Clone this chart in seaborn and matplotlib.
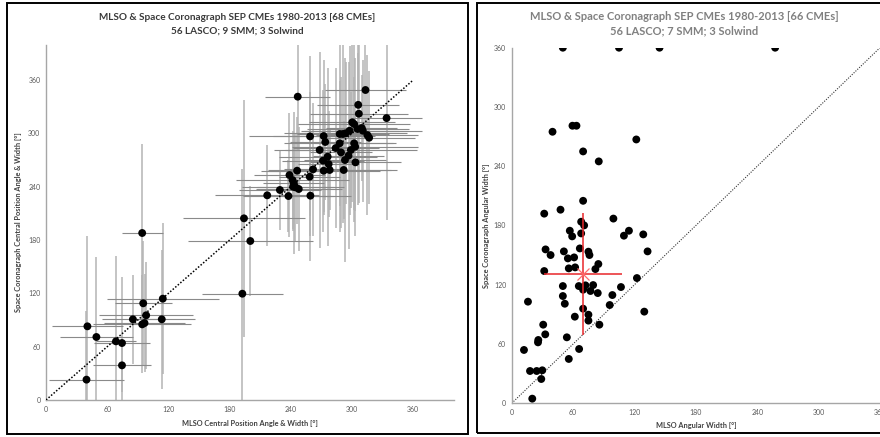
import numpy as np
import pandas as pd
import seaborn as sns
import matplotlib.pyplot as plt
from matplotlib.patches import Rectangle

# left chart: central position angle (MLSO vs space coronagraph), errors = half widths
pa_mlso = [39.7, 40.6, 49.4, 68.6, 74.5, 74.5, 85.2, 94.3, 95.3, 94.3, 96.6, 98.2,
           114.5, 113.5, 192.5, 194.1, 200.3,
           216.9, 229.3, 237.7, 238.7, 241.7, 243.0, 244.6, 242.3, 247.8, 246.2, 246.8,
           259.2, 258.5, 261.8, 258.9, 268.3, 272.2, 273.8, 272.2, 271.6, 276.1, 277.1,
           278.1, 284.0, 287.9, 287.9, 291.1, 289.2, 291.8, 293.1, 293.7, 296.6, 297.6,
           298.9, 300.2, 302.1, 302.1, 303.1, 303.4, 305.4, 306.1, 306.7, 309.6, 310.6,
           313.2, 315.1, 316.8, 333.9]
pa_space = [22.9, 82.9, 70.9, 66.0, 64.1, 39.0, 90.8, 187.9, 108.8, 85.1, 86.6, 95.3,
            114.0, 90.8, 119.6, 204.4, 178.9,
            230.3, 236.3, 229.5, 253.1, 247.5, 243.8, 239.3, 240.0, 237.4, 258.0, 341.3,
            229.9, 251.3, 259.5, 296.6, 281.3, 297.0, 290.3, 258.0, 269.3, 273.8, 265.5,
            258.8, 283.5, 288.8, 299.3, 299.3, 278.6, 258.8, 270.0, 300.0, 274.9, 303.0,
            281.3, 312.4, 310.5, 288.8, 285.0, 267.4, 304.9, 332.1, 322.1, 306.0, 303.0,
            348.8, 298.1, 295.1, 317.2]
pa_mlso_err = [37, 35, 36, 20, 27, 28, 30, 20, 28, 48, 40, 46,
               55, 33, 40, 60, 61,
               51, 40, 45, 35, 55, 30, 38, 50, 42, 35, 32,
               40, 30, 28, 60, 45, 50, 35, 55, 40, 48, 30,
               60, 42, 55, 38, 45, 30, 52, 40, 60, 35, 48,
               65, 42, 55, 38, 62, 45, 50, 40, 48, 35, 58,
               40, 50, 45, 35]
pa_space_err = [77, 102, 90, 96, 74, 30, 50, 100, 70, 55, 55, 60,
                85, 78, 140, 133, 62,
                57, 45, 40, 70, 55, 80, 60, 50, 70, 60, 60,
                45, 95, 75, 90, 110, 85, 65, 50, 80, 100, 60,
                45, 90, 70, 110, 100, 85, 55, 115, 80, 105, 95,
                65, 90, 110, 75, 100, 55, 85, 70, 100, 60, 80,
                55, 90, 75, 115]

# right chart: angular widths
w_mlso = [12.0, 17.9, 24.4, 29.9, 28.9, 20.1, 15.9, 25.7, 26.0, 30.8, 32.8, 31.8, 33.1, 38.0,
          31.8, 47.7, 69.8, 99.4, 51.0, 54.9, 56.8, 59.1, 55.8, 61.0, 62.0, 50.0, 50.0, 51.9,
          53.9, 55.8, 61.7, 65.9, 66.6, 67.9, 70.8, 67.9, 65.6, 69.8, 72.1, 69.8, 75.0, 76.0,
          75.0, 75.0, 77.0, 79.6, 81.8, 84.7, 84.1, 85.7, 95.8, 98.4, 106.8, 109.7, 114.6,
          122.4, 128.6, 132.8, 129.6, 50.0, 104.9, 144.5, 257.5, 39.9, 59.4, 63.3, 121.8,
          69.8, 85.1]
w_space = [54.0, 32.7, 32.7, 33.4, 24.6, 4.7, 102.9, 61.7, 64.1, 79.6, 69.8, 133.9, 155.8, 150.1,
           192.0, 196.0, 205.0, 187.0, 153.8, 146.7, 174.7, 169.0, 136.6, 147.7, 137.6, 118.7,
           108.6, 100.8, 66.8, 44.9, 87.7, 55.0, 156.8, 183.8, 180.1, 172.0, 118.7, 115.0,
           119.4, 95.8, 153.5, 150.1, 89.7, 83.7, 113.7, 119.7, 135.9, 141.0, 111.6, 79.6,
           99.5, 109.6, 117.7, 169.7, 174.7, 126.8, 171.0, 153.8, 92.8, 360, 360, 360, 360,
           274.9, 281.0, 281.0, 267.1, 255.0, 244.9]
avg_mlso, avg_space = 70, 131
sd_mlso, sd_space = 38, 62

left = pd.DataFrame({"mlso": pa_mlso, "space": pa_space})
right = pd.DataFrame({"mlso": w_mlso, "space": w_space})

sns.set_style("white")
plt.rcParams["font.family"] = ["Lato", "DejaVu Sans"]

fig = plt.figure(figsize=(8.8, 4.37), dpi=100)

# panel frames
fig.patches.append(Rectangle((7 / 880, 3 / 437), 461 / 880, 431 / 437, transform=fig.transFigure,
                             fill=False, ec="black", lw=1.4, zorder=0))
fig.patches.append(Rectangle((477 / 880, 4 / 437), 420 / 880, 430 / 437, transform=fig.transFigure,
                             fill=False, ec="black", lw=1.4, zorder=0))

ax1 = fig.add_axes([46 / 880, 37 / 437, 408 / 880, 355.5 / 437])
ax2 = fig.add_axes([511.7 / 880, 33.7 / 437, 368.3 / 880, 355.6 / 437])

# left chart
ax1.errorbar(left["mlso"], left["space"], yerr=pa_space_err, fmt="none",
             ecolor="#b4b4b4", elinewidth=1.1, capsize=0, zorder=1)
ax1.errorbar(left["mlso"], left["space"], xerr=pa_mlso_err, fmt="none",
             ecolor="#8a8a8a", elinewidth=0.8, capsize=0, zorder=2)
ax1.plot([0, 360], [0, 360], color="black", ls=(0, (1, 1.2)), lw=1.1, zorder=3)
sns.scatterplot(data=left, x="mlso", y="space", ax=ax1, color="black", s=32,
                edgecolor="none", zorder=4)
ax1.set_xlim(0, 400)
ax1.set_ylim(0, 400)

# right chart
ax2.plot([0, 360], [0, 360], color="#333333", ls=(0, (1, 1.3)), lw=0.8, zorder=1)
sns.scatterplot(data=right, x="mlso", y="space", ax=ax2, color="black", s=32,
                edgecolor="none", zorder=3)
ax2.errorbar([avg_mlso], [avg_space], xerr=[sd_mlso], yerr=[sd_space], fmt="x",
             color="#e8262a", mec="#ff6a6a", ms=8, mew=0.9, elinewidth=1.1, capsize=0, zorder=4)
ax2.set_xlim(0, 360)
ax2.set_ylim(0, 360)

for ax in (ax1, ax2):
    ax.set_xticks(range(0, 361, 60))
    ax.set_yticks(range(0, 361, 60))
    ax.tick_params(length=0, labelsize=5, colors="#595959", pad=4)
    for side in ("top", "right"):
        ax.spines[side].set_visible(False)
    for side in ("left", "bottom"):
        ax.spines[side].set_color("#a6a6a6")
        ax.spines[side].set_linewidth(1.0)
    ax.set_facecolor("none")

lab = dict(fontsize=5.3, fontweight="bold", color="#404040")
ax1.set_xlabel("MLSO Central Position Angle & Width [°]", **lab)
ax1.set_ylabel("Space Coronagraph Central Position Angle & Width [°]", **lab)
ax2.set_xlabel("MLSO Angular Width [°]", **lab)
ax2.set_ylabel("Space Coronagraph Angular Width [°]", **lab)
ax1.xaxis.set_label_coords(0.5, -0.056)
ax1.yaxis.set_label_coords(-0.059, 0.5)
ax2.xaxis.set_label_coords(0.5, -0.053)
ax2.yaxis.set_label_coords(-0.059, 0.5)

fig.text(237 / 880, 1 - 17 / 437, "MLSO & Space Coronagraph SEP CMEs 1980-2013 [68 CMEs]",
         ha="center", va="center", fontsize=7.2, fontweight="bold", color="#3a3a3a")
fig.text(237 / 880, 1 - 31 / 437, "56 LASCO; 9 SMM; 3 Solwind",
         ha="center", va="center", fontsize=7.2, fontweight="bold", color="#3a3a3a")
fig.text(684 / 880, 1 - 17 / 437, "MLSO & Space Coronagraph SEP CMEs 1980-2013 [66 CMEs]",
         ha="center", va="center", fontsize=8, fontweight="bold", color="#808080")
fig.text(684 / 880, 1 - 31 / 437, "56 LASCO; 7 SMM; 3 Solwind",
         ha="center", va="center", fontsize=8, fontweight="bold", color="#808080")

fig.savefig("out.png", dpi=100)
